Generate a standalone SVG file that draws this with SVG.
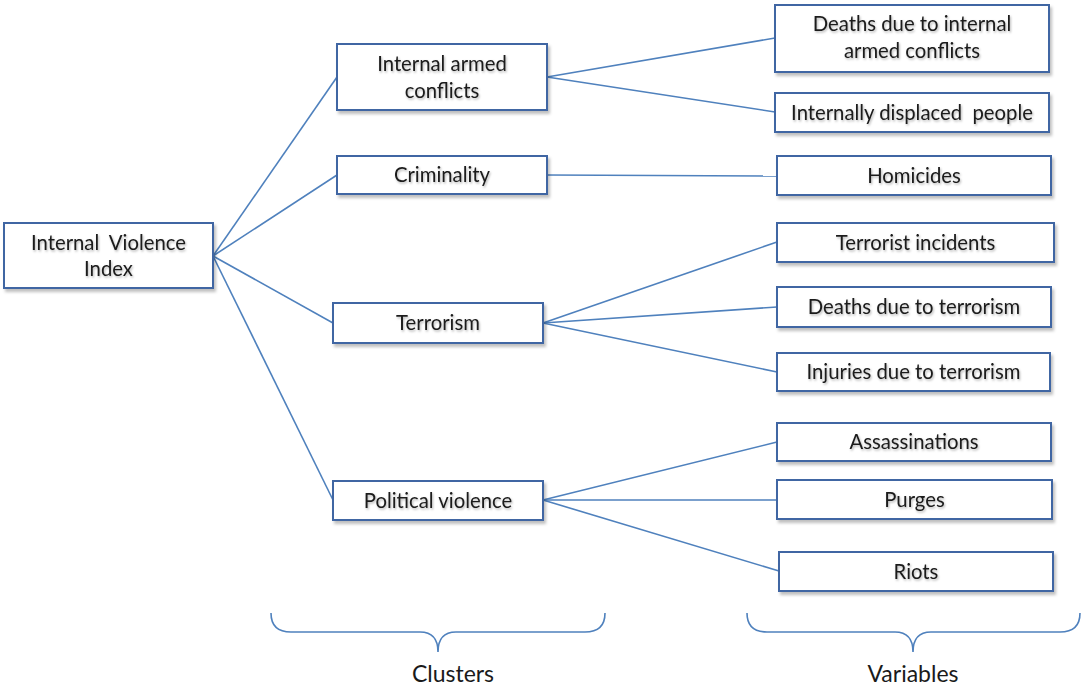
<svg xmlns="http://www.w3.org/2000/svg" width="1081" height="688" viewBox="0 0 1081 688">
<style>
.box{fill:#ffffff;stroke:#3f66a3;stroke-width:2;filter:url(#sh)}
.lbl{font-family:Lato,"Open Sans","Liberation Sans",sans-serif;font-size:20.3px;fill:#1a1a1a;text-anchor:middle;white-space:pre;filter:url(#tsh)}
.con{fill:none;stroke:#4f81bd;stroke-width:1.6}
.brace{fill:none;stroke:#4f81bd;stroke-width:1.6}
.cap{font-family:Lato,"Open Sans","Liberation Sans",sans-serif;font-size:23px;fill:#1a1a1a;text-anchor:middle}
</style>
<defs>
<filter id="sh" x="-10%" y="-20%" width="120%" height="150%">
<feDropShadow dx="2" dy="3" stdDeviation="1.5" flood-color="#000" flood-opacity="0.25"/>
</filter>
<filter id="tsh" x="-10%" y="-30%" width="120%" height="160%">
<feDropShadow dx="1" dy="1.5" stdDeviation="1" flood-color="#000" flood-opacity="0.3"/>
</filter>
</defs>
<rect width="1081" height="688" fill="#ffffff"/>
<g id="connectors">
<line class="con" x1="213" y1="256" x2="337" y2="77"/>
<line class="con" x1="213" y1="256" x2="337" y2="175"/>
<line class="con" x1="213" y1="256" x2="333" y2="323"/>
<line class="con" x1="213" y1="256" x2="333" y2="500"/>
<line class="con" x1="547" y1="77" x2="775" y2="38"/>
<line class="con" x1="547" y1="77" x2="775" y2="112"/>
<line class="con" x1="547" y1="175" x2="777" y2="176"/>
<line class="con" x1="543" y1="323" x2="777" y2="242"/>
<line class="con" x1="543" y1="323" x2="777" y2="307"/>
<line class="con" x1="543" y1="323" x2="777" y2="372"/>
<line class="con" x1="543" y1="500" x2="777" y2="442"/>
<line class="con" x1="543" y1="500" x2="777" y2="500"/>
<line class="con" x1="543" y1="500" x2="779" y2="571"/>
</g>
<g id="root">
<rect class="box" x="4" y="223" width="209" height="65"/>
<text class="lbl" x="108.5" y="250">Internal  Violence</text>
<text class="lbl" x="108.5" y="276">Index</text>
</g>
<g id="c-armed">
<rect class="box" x="337" y="44" width="210" height="66"/>
<text class="lbl" x="442" y="71">Internal armed</text>
<text class="lbl" x="442" y="98">conflicts</text>
</g>
<g id="c-crim">
<rect class="box" x="337" y="156" width="210" height="38"/>
<text class="lbl" x="442" y="182">Criminality</text>
</g>
<g id="c-terr">
<rect class="box" x="333" y="303" width="210" height="40"/>
<text class="lbl" x="438" y="330">Terrorism</text>
</g>
<g id="c-pol">
<rect class="box" x="333" y="481" width="210" height="39"/>
<text class="lbl" x="438" y="508">Political violence</text>
</g>
<g id="v-deaths-iac">
<rect class="box" x="775" y="5" width="274" height="67"/>
<text class="lbl" x="912" y="31">Deaths due to internal</text>
<text class="lbl" x="912" y="58">armed conflicts</text>
</g>
<g id="v-idp">
<rect class="box" x="775" y="93" width="274" height="39"/>
<text class="lbl" x="912" y="120">Internally displaced  people</text>
</g>
<g id="v-hom">
<rect class="box" x="777" y="156" width="274" height="39"/>
<text class="lbl" x="914" y="183">Homicides</text>
</g>
<g id="v-ti">
<rect class="box" x="777" y="223" width="277" height="39"/>
<text class="lbl" x="915.5" y="250">Terrorist incidents</text>
</g>
<g id="v-dt">
<rect class="box" x="777" y="287" width="274" height="40"/>
<text class="lbl" x="914" y="314">Deaths due to terrorism</text>
</g>
<g id="v-it">
<rect class="box" x="777" y="353" width="273" height="38"/>
<text class="lbl" x="913.5" y="379">Injuries due to terrorism</text>
</g>
<g id="v-ass">
<rect class="box" x="777" y="423" width="274" height="38"/>
<text class="lbl" x="914" y="449">Assassinations</text>
</g>
<g id="v-pur">
<rect class="box" x="777" y="480" width="275" height="39"/>
<text class="lbl" x="914.5" y="507">Purges</text>
</g>
<g id="v-riots">
<rect class="box" x="779" y="552" width="274" height="39"/>
<text class="lbl" x="916" y="579">Riots</text>
</g>
<g id="braces">
<path class="brace" d="M271,613 Q271,632 291,632 L420,632 Q438,632 438,652 Q438,632 456,632 L585,632 Q605,632 605,613"/>
<path class="brace" d="M747,613 Q747,632 767,632 L895,632 Q913,632 913,652 Q913,632 931,632 L1060,632 Q1080,632 1080,613"/>
<text class="cap" x="453" y="682">Clusters</text>
<text class="cap" x="913" y="682">Variables</text>
</g>
</svg>
